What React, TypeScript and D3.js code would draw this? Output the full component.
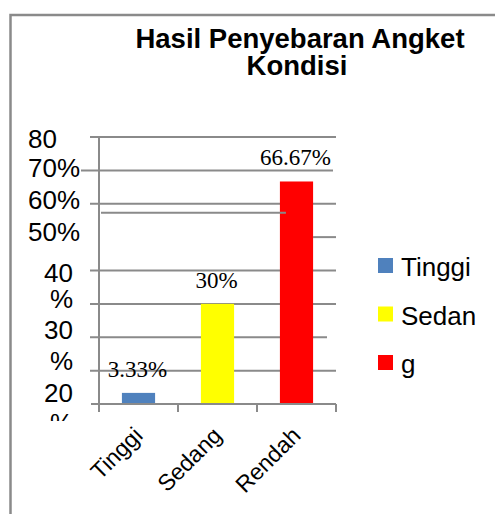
import React from "react";
import * as d3 from "d3";

const categories = ["Tinggi", "Sedang", "Rendah"];
const values = [3.33, 30, 66.67];
const valueLabels = ["3.33%", "30%", "66.67%"];
const barColors = ["#4f81bd", "#ffff00", "#ff0000"];
const legendLabels = ["Tinggi", "Sedan", "g"];
const gridValues = [10, 20, 30, 40, 50, 60, 70, 80];
// the y labels got squeezed + wrapped in the original, so they sit off the gridlines
const yLabelText = ["80", "70%", "60%", "50%", "40", "%", "30", "%", "20", "%"];
const yLabelAt = [76.7, 68, 58.4, 48.8, 36.6, 28.8, 19.5, 10.2, 0.6, -8.4];
const strayLineAt = 57.3;

const W = 495;
const H = 514;
const margin = { top: 137, left: 99, right: 159, bottom: 110 };
const grey = "#8a8a8a";
const sans = "'Liberation Sans', Arial, sans-serif";
const serif = "'Liberation Serif', 'Times New Roman', serif";

export default function App() {
  const x = d3
    .scaleBand()
    .domain(categories)
    .range([margin.left, W - margin.right])
    .padding(0);
  const y = d3
    .scaleLinear()
    .domain([0, 80])
    .range([H - margin.bottom, margin.top]);

  const barW = x.bandwidth() * 0.42;
  const barX = (c) => x(c) + (x.bandwidth() - barW) / 2;
  const x0 = margin.left;
  const x1 = W - margin.right;
  const redRight = barX("Rendah") + barW;

  // gridline extents, quirks
  const gridExtent = (v) => {
    if (v === 70) return [x0 - 18, x1 - 3];
    if (v === 50) return [redRight, x1];
    if (v === 20) return [x0 - 9, x1 - 9];
    return [x0 - 9, x1];
  };

  return (
    <svg
      width={W}
      height={H}
      style={{ position: "absolute", left: 0, top: 0, background: "#fff" }}
    >
      <defs>
        <clipPath id="ylab">
          <rect x={0} y={0} width={x0} height={y(0) + 17} />
        </clipPath>
      </defs>
      <path
        d={`M10.5,${H} V15 H${W}`}
        fill="none"
        stroke={grey}
        strokeWidth={2.5}
      />

      <text
        x={300}
        y={48}
        textAnchor="middle"
        fontFamily={sans}
        fontWeight="bold"
        fontSize={27.5}
      >
        Hasil Penyebaran Angket
      </text>
      <text
        x={297}
        y={75}
        textAnchor="middle"
        fontFamily={sans}
        fontWeight="bold"
        fontSize={27.5}
      >
        Kondisi
      </text>

      {/* gridlines */}
      {gridValues.map((v) => {
        const [a, b] = gridExtent(v);
        return (
          <line
            key={v}
            x1={a}
            x2={b}
            y1={y(v)}
            y2={y(v)}
            stroke={grey}
            strokeWidth={2}
          />
        );
      })}

      {/* bars */}
      {categories.map((c, i) => (
        <rect
          key={c}
          x={barX(c)}
          y={y(values[i])}
          width={barW}
          height={y(0) - y(values[i])}
          fill={barColors[i]}
        />
      ))}

      {/* stray line that runs into the red bar */}
      <line
        x1={x0 + 2}
        x2={barX("Rendah") + 6}
        y1={y(strayLineAt)}
        y2={y(strayLineAt)}
        stroke={grey}
        strokeWidth={2}
      />

      {/* axes */}
      <line x1={x0} x2={x0} y1={y(80)} y2={y(0) + 8} stroke={grey} strokeWidth={2} />
      <line x1={x0 - 8} x2={x1} y1={y(0)} y2={y(0)} stroke={grey} strokeWidth={2} />
      {[...categories.map((c) => x(c)), x1].slice(1).map((t, i) => (
        <line key={i} x1={t} x2={t} y1={y(0)} y2={y(0) + 8} stroke={grey} strokeWidth={2} />
      ))}

      {/* value labels */}
      {categories.map((c, i) => (
        <text
          key={c}
          x={x(c) + x.bandwidth() / 2 - 1}
          y={y(values[i]) - 16}
          textAnchor="middle"
          fontFamily={serif}
          fontSize={23}
        >
          {valueLabels[i]}
        </text>
      ))}

      {/* y labels */}
      <g clipPath="url(#ylab)" fontFamily={sans} fontSize={26}>
        {yLabelText.map((t, i) => (
          <text
            key={i}
            x={i < 4 ? 28 : 73}
            y={y(yLabelAt[i])}
            textAnchor={i < 4 ? "start" : "end"}
          >
            {t}
          </text>
        ))}
      </g>

      {/* category labels */}
      {categories.map((c) => {
        const cx = x(c) + x.bandwidth() / 2 + 5.5;
        const cy = y(0) + 33;
        return (
          <text
            key={c}
            transform={`translate(${cx},${cy}) rotate(-45)`}
            textAnchor="end"
            fontFamily={sans}
            fontSize={23}
          >
            {c}
          </text>
        );
      })}

      {/* legend */}
      {legendLabels.map((l, i) => (
        <g key={l} transform={`translate(378,${258 + i * 48.5})`}>
          <rect width={15} height={15} fill={barColors[i]} />
          <text x={23} y={18} fontFamily={sans} fontSize={26}>
            {l}
          </text>
        </g>
      ))}
    </svg>
  );
}
